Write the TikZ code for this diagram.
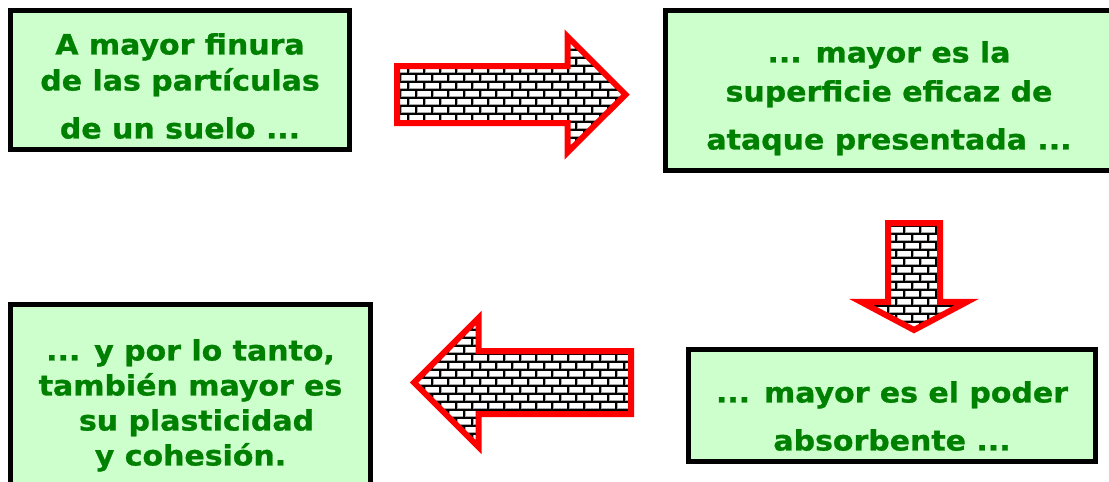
\documentclass[tikz,border=0pt]{standalone}
\usepackage{fontspec}
\usepackage{tikz}
\usetikzlibrary{shapes.arrows,patterns}
\newfontfamily\boxfont[FakeStretch=1.07,FakeBold=1]{DejaVu Sans}
\definecolor{boxgreen}{HTML}{CCFFCC}
\definecolor{textgreen}{HTML}{008000}
% bricks with a little grey shading under each course
\pgfdeclarepatterninherentlycolored{brickwall}{\pgfpoint{-1pt}{-1pt}}{\pgfpoint{17pt}{17pt}}{\pgfpoint{16pt}{16pt}}{
  \pgfsetlinewidth{0.9pt}
  \pgfsetstrokecolor{black!35}
  \pgfpathmoveto{\pgfpoint{0pt}{1.5pt}}\pgfpathlineto{\pgfpoint{16pt}{1.5pt}}
  \pgfpathmoveto{\pgfpoint{0pt}{9.5pt}}\pgfpathlineto{\pgfpoint{16pt}{9.5pt}}
  \pgfpathmoveto{\pgfpoint{1.4pt}{0pt}}\pgfpathlineto{\pgfpoint{1.4pt}{8pt}}
  \pgfpathmoveto{\pgfpoint{9.4pt}{8pt}}\pgfpathlineto{\pgfpoint{9.4pt}{16pt}}
  \pgfusepath{stroke}
  \pgfsetlinewidth{1.4pt}
  \pgfsetstrokecolor{black}
  \pgfpathmoveto{\pgfpoint{0pt}{0pt}}\pgfpathlineto{\pgfpoint{16pt}{0pt}}
  \pgfpathmoveto{\pgfpoint{0pt}{8pt}}\pgfpathlineto{\pgfpoint{16pt}{8pt}}
  \pgfpathmoveto{\pgfpoint{0pt}{0pt}}\pgfpathlineto{\pgfpoint{0pt}{8pt}}
  \pgfpathmoveto{\pgfpoint{8pt}{8pt}}\pgfpathlineto{\pgfpoint{8pt}{16pt}}
  \pgfusepath{stroke}
}
\tikzstyle{textbox}=[draw=black,line width=5pt,fill=boxgreen,inner sep=0pt]
\tikzstyle{boxtext}=[anchor=north,text=textgreen,align=center,inner sep=0pt,font=\boxfont\bfseries\fontsize{28}{34}\selectfont]
\tikzstyle{brickarrow}=[single arrow,draw=red,line width=6pt,preaction={fill=white},pattern=brickwall,inner xsep=0pt]

\begin{document}
\begin{tikzpicture}[x=1pt,y=-1pt]
    \useasboundingbox (0,0) rectangle (1109,482);
    \clip (0,0) rectangle (1109,482);
    % The four boxes
    \node[textbox,minimum width=339,minimum height=139] (finura) at (180,80) {};
    \node[textbox,minimum width=447,minimum height=160] (superficie) at (889,90.5) {};
    \node[textbox,minimum width=407,minimum height=112] (poder) at (892,405.5) {};
    \node[textbox,minimum width=360,minimum height=185] (plasticidad) at (190.5,397) {};

    % and what they say
    \node[boxtext] (finuraText) at ([yshift=-25pt]finura.north)
        {A mayor finura\\[2pt]de las partículas\\[14pt]de un suelo ...};
    \node[boxtext] (superficieText) at ([yshift=-33pt]superficie.north)
        {... mayor es la\\[5pt]superficie eficaz de\\[14pt]ataque presentada ...};
    \node[boxtext] (poderText) at ([yshift=-34pt]poder.north)
        {... mayor es el poder\\[14pt]absorbente ...};
    \node[boxtext] (plasticidadText) at ([yshift=-37pt]plasticidad.north)
        {... y por lo tanto,\\[1pt]también mayor es\\[1pt]\hspace*{12pt}su plasticidad\\[1pt]y cohesión.};

    % Brick arrows between them
    \foreach \pos/\dir/\len/\shaft/\ext/\tip/\name in {{(394,94.5)/0/228.5/25.5/29.5/90/arrA}, {(914,220)/-90/107/23/27/124/arrB}, {(634,382.5)/180/217/28.5/33/90/arrC}}
        \node[brickarrow,anchor=tail,rotate=\dir,minimum height=\len,inner ysep=\shaft,single arrow head extend=\ext,single arrow tip angle=\tip] (\name) at \pos {};
\end{tikzpicture}
\end{document}
